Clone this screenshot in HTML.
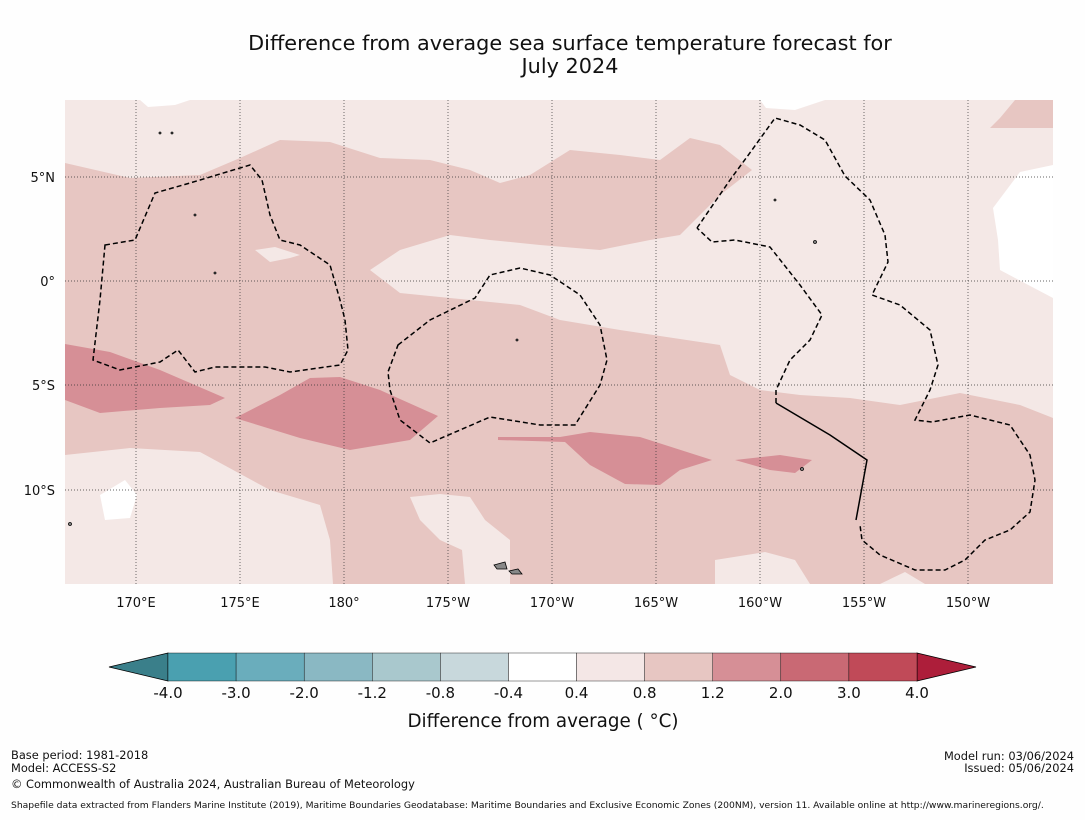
<!DOCTYPE html>
<html><head><meta charset="utf-8"><style>
body{margin:0;background:#fefefe;width:1085px;height:816px;overflow:hidden;font-family:"DejaVu Sans","Liberation Sans",sans-serif;}
svg text{font-family:"DejaVu Sans","Liberation Sans",sans-serif;}
</style></head><body>
<svg width="1085" height="816" viewBox="0 0 1085 816">
<rect width="1085" height="816" fill="#fefefe"/>
<text x="570" y="50" text-anchor="middle" font-size="20.8" fill="#111">Difference from average sea surface temperature forecast for</text>
<text x="570" y="73" text-anchor="middle" font-size="20.8" fill="#111">July 2024</text>
<g>
<clipPath id="mc"><rect x="65" y="100" width="988" height="484"/></clipPath>
<g clip-path="url(#mc)">
<rect x="65" y="100" width="988" height="484" fill="#e7c6c2"/>
<path fill="#f4e8e6" d="M65,100 L1053,100 L1053,418 L1020,405 L960,393 L900,405 L850,398 L800,395 L760,390 L730,375 L720,345 L620,330 L560,320 L520,305 L470,300 L400,293 L370,270 L400,250 L450,235 L490,240 L540,245 L600,250 L650,240 L680,235 L695,220 L720,195 L752,170 L720,145 L690,138 L660,160 L620,155 L570,150 L530,175 L500,183 L470,170 L430,160 L380,158 L330,142 L280,140 L240,158 L200,175 L130,178 L65,163 Z"/>
<path fill="#e7c6c2" d="M1015,100 L1053,100 L1053,128 L990,128 L1000,118 Z"/>
<path fill="#ffffff" d="M1053,165 L1020,172 L993,208 L998,240 L1000,270 L1053,298 Z"/>
<path fill="#ffffff" d="M140,100 L148,107 L175,105 L190,100 Z"/>
<path fill="#ffffff" d="M760,100 L766,108 L795,110 L825,100 Z"/>
<path fill="#f4e8e6" d="M65,455 L130,448 L200,452 L270,490 L320,505 L330,540 L333,584 L65,584 Z"/>
<path fill="#ffffff" d="M100,495 L125,480 L137,495 L130,518 L105,520 Z"/>
<path fill="#f4e8e6" d="M410,497 L440,494 L470,497 L485,520 L510,540 L510,584 L465,584 L462,550 L440,540 L420,520 Z"/>
<path fill="#f4e8e6" d="M715,560 L765,552 L795,560 L810,584 L715,584 Z"/>
<path fill="#f4e8e6" d="M880,584 L905,572 L925,584 Z"/>
<path fill="#f4e8e6" d="M255,250 L275,247 L300,255 L290,258 L270,262 Z"/>
<g fill="#d68f96">
<path d="M65,344 L110,352 L160,370 L225,398 L210,405 L160,408 L100,413 L65,400 Z"/>
<path d="M235,418 L280,395 L310,378 L340,377 L380,390 L438,416 L410,440 L350,450 L300,438 Z"/>
<path d="M498,437 L560,437 L590,432 L640,437 L712,460 L680,470 L660,485 L625,484 L590,465 L565,442 L498,440 Z"/>
<path d="M735,460 L780,455 L812,460 L795,473 L770,470 Z"/>
</g>
<g stroke="#333" stroke-width="0.7" stroke-dasharray="1,2">
<line x1="136" y1="100" x2="136" y2="584"/><line x1="240" y1="100" x2="240" y2="584"/><line x1="344" y1="100" x2="344" y2="584"/><line x1="448" y1="100" x2="448" y2="584"/><line x1="552" y1="100" x2="552" y2="584"/><line x1="656" y1="100" x2="656" y2="584"/><line x1="760" y1="100" x2="760" y2="584"/><line x1="864" y1="100" x2="864" y2="584"/><line x1="968" y1="100" x2="968" y2="584"/>
<line x1="65" y1="177" x2="1053" y2="177"/><line x1="65" y1="281" x2="1053" y2="281"/><line x1="65" y1="385" x2="1053" y2="385"/><line x1="65" y1="490" x2="1053" y2="490"/>
</g>
<g fill="none" stroke="#000" stroke-width="1.5" stroke-dasharray="5,3">
<path d="M105,245 L135,240 L155,193 L190,183 L250,165 L262,180 L270,215 L280,240 L300,245 L330,265 L340,300 L345,320 L348,350 L340,365 L290,372 L265,367 L215,367 L195,372 L178,350 L160,362 L120,370 L93,360 L100,300 Z"/>
<path d="M398,345 L430,320 L475,298 L490,275 L520,268 L550,275 L580,295 L600,325 L607,360 L600,385 L575,425 L540,425 L490,417 L430,443 L400,420 L390,390 L388,372 Z"/>
<path d="M697,228 L730,180 L752,150 L775,118 L800,125 L825,140 L845,176 L870,200 L885,235 L888,262 L872,295 L900,305 L930,330 L938,365 L930,390 L915,420 L932,422 L970,415 L1010,425 L1030,455 L1035,480 L1030,512 L1010,530 L985,540 L965,560 L945,570 L915,570 L880,555 L862,540 L860,525"/>
<path d="M776,403 L776,390 L790,360 L810,340 L822,315 L800,285 L770,247 L735,240 L712,242 L697,228"/>
</g>
<path d="M776,403 L830,435 L867,460 L856,520" fill="none" stroke="#000" stroke-width="1.5"/>
<g fill="#888" stroke="#000" stroke-width="0.8">
<path d="M494,565 L505,562 L507,569 L497,569 Z"/><path d="M509,571 L518,569 L522,574 L512,574 Z"/>
<circle cx="517" cy="340" r="1"/><circle cx="775" cy="200" r="1"/><circle cx="815" cy="242" r="1.5"/><circle cx="802" cy="469" r="1.5"/><circle cx="215" cy="273" r="1"/><circle cx="195" cy="215" r="1"/><circle cx="70" cy="524" r="1.5"/><circle cx="160" cy="133" r="1"/><circle cx="172" cy="133" r="1"/>
</g>
</g>
</g>
<g font-size="13" fill="#111" text-anchor="middle">
<text x="136" y="607">170°E</text><text x="240" y="607">175°E</text><text x="344" y="607">180°</text><text x="448" y="607">175°W</text><text x="552" y="607">170°W</text><text x="656" y="607">165°W</text><text x="760" y="607">160°W</text><text x="864" y="607">155°W</text><text x="968" y="607">150°W</text>
</g>
<g font-size="13" fill="#111" text-anchor="end">
<text x="55" y="182">5°N</text><text x="55" y="286">0°</text><text x="55" y="390">5°S</text><text x="55" y="495">10°S</text>
</g>
<g id="cbar"></g>
<text x="543" y="727" text-anchor="middle" font-size="18.3" fill="#111">Difference from average ( °C)</text>
<g font-size="11.4" fill="#111">
<text x="11" y="759">Base period: 1981-2018</text><text x="11" y="772">Model: ACCESS-S2</text><text x="11" y="788">© Commonwealth of Australia 2024, Australian Bureau of Meteorology</text>
<text x="1074" y="760" text-anchor="end">Model run: 03/06/2024</text><text x="1074" y="772" text-anchor="end">Issued: 05/06/2024</text>
<text x="11" y="808" font-size="9.2">Shapefile data extracted from Flanders Marine Institute (2019), Maritime Boundaries Geodatabase: Maritime Boundaries and Exclusive Economic Zones (200NM), version 11. Available online at http://www.marineregions.org/.</text>
</g>
</svg>
<script>
const binLabels=["-4.0","-3.0","-2.0","-1.2","-0.8","-0.4","0.4","0.8","1.2","2.0","3.0","4.0"];
const binColors=["#4aa0b0","#6aadbc","#8ab8c3","#a9c8cd","#c8d8dc","#ffffff","#f4e7e6","#e7c6c2","#d68f96","#c96974","#c04a58"];
const underColor="#3a7f8a", overColor="#ad1e3a";
const ns="http://www.w3.org/2000/svg", g=document.getElementById('cbar');
const x0=168,x1=917,y0=653,y1=681,w=(x1-x0)/binColors.length;
function mk(t,a){const e=document.createElementNS(ns,t);for(const k in a)e.setAttribute(k,a[k]);g.appendChild(e);return e;}
let p=mk('polygon',{points:`${x0},${y0} ${x0},${y1} 109,667`,fill:underColor,stroke:'#000','stroke-width':0.8});


p=mk('polygon',{points:`${x1},${y0} ${x1},${y1} 976,667`,fill:overColor,stroke:'#000','stroke-width':0.8});


binColors.forEach((c,i)=>{
  const r=mk('rect',{x:x0+i*w,y:y0,width:w,height:y1-y0,fill:c,stroke:'#000','stroke-width':0.4});
  
  
});
binLabels.forEach((l,i)=>{
  const t=mk('text',{x:x0+i*w,y:698,'text-anchor':'middle','font-size':15,fill:'#111'});
  t.textContent=l;
  
  
});
</script>
</body></html>
